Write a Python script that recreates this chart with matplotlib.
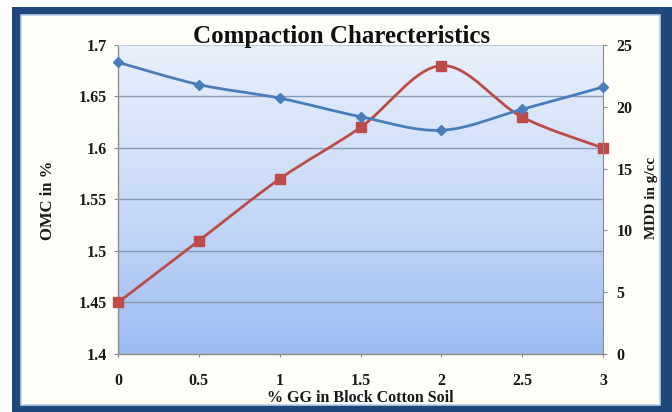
import numpy as np
import matplotlib
matplotlib.use("Agg")
import matplotlib.pyplot as plt
from matplotlib.path import Path
from matplotlib.patches import PathPatch, Rectangle
from matplotlib.colors import LinearSegmentedColormap

plt.rcParams['font.family'] = ['Liberation Serif', 'DejaVu Serif']
plt.rcParams['font.weight'] = 'bold'

gg_pct = [0, 0.5, 1, 1.5, 2, 2.5, 3]
mdd = [1.45, 1.51, 1.57, 1.62, 1.68, 1.63, 1.60]      # left axis, red
omc = [23.6, 21.8, 20.7, 19.2, 18.1, 19.8, 21.6]      # right axis, blue
left_ticks = [1.4, 1.45, 1.5, 1.55, 1.6, 1.65, 1.7]
right_ticks = [0, 5, 10, 15, 20, 25]

FRAME = '#1F497D'
RED = '#BE4B48'
BLUE = '#4A7EBB'
GRID = '#8A9BB4'
AXIS = '#8C8C8C'
TXT = '#1a1a1a'


def smooth_path(xs, ys):
    # excel-style smoothed line: cubic bezier segments, catmull-rom control points
    pts = np.column_stack([xs, ys]).astype(float)
    ext = np.vstack([pts[0], pts, pts[-1]])
    verts = [pts[0]]
    codes = [Path.MOVETO]
    for i in range(len(pts) - 1):
        p0, p1, p2, p3 = ext[i], ext[i + 1], ext[i + 2], ext[i + 3]
        verts += [p1 + (p2 - p0) / 6, p2 - (p3 - p1) / 6, p2]
        codes += [Path.CURVE4] * 3
    return Path(verts, codes)


fig = plt.figure(figsize=(6.72, 4.12), dpi=100)
fig.patch.set_facecolor('white')

# dark outer frame and the chart area inside it
fig.patches.append(Rectangle((12 / 672, 0), 660 / 672, 405 / 412,
                             transform=fig.transFigure, facecolor=FRAME,
                             edgecolor='none', zorder=0))
fig.patches.append(Rectangle((21 / 672, 7 / 412), 639 / 672, 390 / 412,
                             transform=fig.transFigure, facecolor='#FFFEF9',
                             edgecolor='#B9CDE5', lw=1.2, zorder=1))

ax = fig.add_axes([118 / 672, 1 - 354 / 412, 485 / 672, 309 / 412])
ax.set_zorder(2)
ax.patch.set_visible(False)

grad = LinearSegmentedColormap.from_list('plotfill', ['#9CBCF0', '#C9DBF8', '#E9F0FC'])
ax.imshow(np.linspace(0, 1, 256)[:, None], cmap=grad, origin='lower',
          extent=[0, 1, 0, 1], transform=ax.transAxes, aspect='auto', zorder=0)

ax.set_xlim(0, 3)
ax.set_ylim(1.4, 1.7)
ax.set_xticks(gg_pct)
ax.set_xticklabels(['0', '0.5', '1', '1.5', '2', '2.5', '3'])
ax.set_yticks(left_ticks)
ax.set_yticklabels(['1.4', '1.45', '1.5', '1.55', '1.6', '1.65', '1.7'])
for v in left_ticks[1:-1]:
    ax.axhline(v, color=GRID, lw=1.0, zorder=1)

ax.tick_params(axis='both', labelsize=11.5, colors=AXIS, labelcolor=TXT,
               length=3, width=0.8, direction='out')
ax.tick_params(axis='x', pad=12, length=2)
ax.tick_params(axis='y', pad=5)
for s in ['left', 'bottom']:
    ax.spines[s].set_color(AXIS)
    ax.spines[s].set_linewidth(1.0)
ax.spines['top'].set_color('#C3CCD9')
ax.spines['right'].set_visible(False)

ax.add_patch(PathPatch(smooth_path(gg_pct, mdd), fill=False, edgecolor=RED,
                       lw=2.0, zorder=3))
ax.plot(gg_pct, mdd, linestyle='none', marker='s', markersize=7.5,
        color=RED, markeredgecolor=RED, zorder=4, clip_on=False)

ax2 = ax.twinx()
ax2.set_zorder(3)
ax2.set_ylim(0, 25)
ax2.set_yticks(right_ticks)
ax2.tick_params(axis='y', labelsize=11.5, colors=AXIS, labelcolor=TXT,
                length=3, width=0.8, pad=6.5)
ax2.spines['right'].set_color(AXIS)
for s in ['left', 'top', 'bottom']:
    ax2.spines[s].set_visible(False)

ax2.add_patch(PathPatch(smooth_path(gg_pct, omc), fill=False, edgecolor=BLUE,
                        lw=2.0, zorder=3))
ax2.plot(gg_pct, omc, linestyle='none', marker='D', markersize=5.5,
         color=BLUE, markeredgecolor=BLUE, zorder=4, clip_on=False)

fig.text(342 / 672, 1 - 43 / 412, 'Compaction Charecteristics', ha='center',
         va='baseline', fontsize=18, fontweight='bold', color='#111111')
fig.text(48 / 672, 1 - 200 / 412, 'OMC in %', rotation=90, ha='center',
         va='center', fontsize=12, fontweight='bold', color=TXT)
fig.text(651 / 672, 1 - 198 / 412, 'MDD in g/cc', rotation=90, ha='center',
         va='center', fontsize=11, fontweight='bold', color=TXT)
fig.text(360 / 672, 1 - 398.5 / 412, '% GG in Block Cotton Soil', ha='center',
         va='center', fontsize=11.5, fontweight='bold', color=TXT)

fig.savefig('out.png', dpi=100)
